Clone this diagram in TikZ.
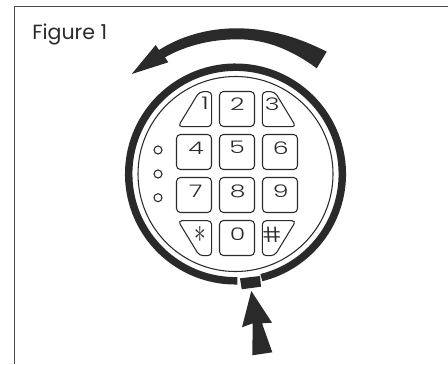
\documentclass[tikz,border=0pt]{standalone}
\usepackage{fontspec}
\setmainfont{Poppins}
\newfontfamily\keyfont{Poppins Light}
\newfontfamily\hashfont[FakeSlant=-0.25]{Poppins Light}
\definecolor{inkdark}{HTML}{2A2A2A}
\newcommand{\keydigit}[1]{\scalebox{1.45}[1]{\keyfont\fontsize{13}{13}\selectfont #1}}
\tikzset{
  keybox/.style={draw=inkdark,line width=0.8pt,rounded corners=3pt,minimum size=26.25pt,inner sep=0pt},
  keyedge/.style={draw=inkdark,line width=0.8pt,rounded corners=3pt},
  keylabel/.style={inner sep=0pt,text=inkdark},
  ledlamp/.style={draw=inkdark,line width=0.8pt,circle,minimum size=6pt,inner sep=0pt}
}
\begin{document}
\begin{tikzpicture}[x=0.75pt,y=-0.75pt]
        \useasboundingbox (0,0) rectangle (448,364);
        % frame and title
        \draw[inkdark!85,line width=1.1pt] (448,6.7) -- (14.5,6.7) -- (14.5,364);
        \node[anchor=base west,inner sep=0pt,text=inkdark,font=\fontsize{15.4}{15.4}\selectfont] (title) at (32,39.5) {Figure 1};
        % ring and mark
        \draw[inkdark,line width=5.6pt] (235.5,174) ++(89:106.8) arc[start angle=89,end angle=436,radius=106.8];
        \draw[inkdark,line width=0.8pt] (235.5,174) circle[radius=97.5];
        \fill[inkdark] (240,278.3) -- (260,276) -- (261,286.7) -- (241.7,289.3) -- cycle;
        % turning arrow
        \fill[inkdark] (326.7,51.7) .. controls (298,37) and (268,28.3) .. (236.7,28.3)
          .. controls (208,28.3) and (181,36) .. (159,50) -- (155.7,45) -- (131.7,74) -- (168.3,62.3) -- (165,57.3)
          .. controls (187,45) and (212,39.3) .. (238,39.3)
          .. controls (266,39.3) and (292,50) .. (316.7,68.3) -- cycle;
        % pointer arrow
        \fill[inkdark] (251.3,291) -- (272,322.7) -- (262,323.3) -- (272.3,352.3) -- (252.3,355.3) -- (252.7,323.3) -- (242,327.3) -- cycle;
        % lamps
        \node[ledlamp] (lampa) at (158,150) {};
        \node[ledlamp] (lampb) at (158,174) {};
        \node[ledlamp] (lampc) at (158,197.7) {};
        % top row
        \draw[keyedge] (199.3,91.7) -- (211.7,91.7) -- (211.7,126.7) -- (178,126.7) -- cycle;
        \node[keylabel] (key1) at (205,103.5) {\keydigit{1}};
        \node[keybox] (key2) at (237,109) {};
        \node[keylabel] at (237.3,104.3) {\keydigit{2}};
        \draw[keyedge] (274.7,91.7) -- (262.3,91.7) -- (262.3,126.7) -- (296,126.7) -- cycle;
        \node[keylabel] (key3) at (272.3,104) {\keydigit{3}};
        % second row
        \node[keybox] (key4) at (194,152) {};
        \node[keylabel] at (196,148) {\keydigit{4}};
        \node[keybox] (key5) at (237,152) {};
        \node[keylabel] at (237,147.5) {\keydigit{5}};
        \node[keybox] (key6) at (280,152) {};
        \node[keylabel] at (280.7,147.7) {\keydigit{6}};
        % third row
        \node[keybox] (key7) at (194,195) {};
        \node[keylabel] at (195.7,191) {\keydigit{7}};
        \node[keybox] (key8) at (237,195) {};
        \node[keylabel] at (237.7,191) {\keydigit{8}};
        \node[keybox] (key9) at (280,195) {};
        \node[keylabel] at (280.7,190.7) {\keydigit{9}};
        % bottom row
        \draw[keyedge] (199.3,255.7) -- (211.7,255.7) -- (211.7,220.7) -- (178,220.7) -- cycle;
        \node[keylabel] (keystar) at (200.7,234.5) {\scalebox{1}[1.5]{\fontsize{17}{17}\selectfont$\ast$}};
        \node[keybox] (key0) at (237,238) {};
        \node[keylabel] at (237.7,234) {\keydigit{0}};
        \draw[keyedge] (274.7,255.7) -- (262.3,255.7) -- (262.3,220.7) -- (296,220.7) -- cycle;
        \node[keylabel] (keyhash) at (274.3,234.3) {\scalebox{1.4}[1.2]{\hashfont\fontsize{13}{13}\selectfont\#}};
      \end{tikzpicture}
\end{document}
